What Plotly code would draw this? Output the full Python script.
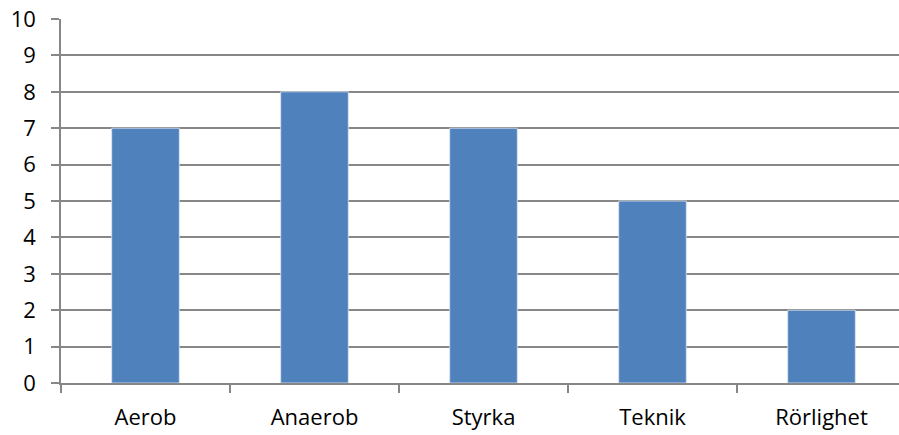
import plotly.graph_objects as go

categories = ["Aerob", "Anaerob", "Styrka", "Teknik", "Rörlighet"]
values = [7, 8, 7, 5, 2]
y_ticks = list(range(0, 11))

fig = go.Figure()
fig.add_trace(go.Bar(
    x=categories, y=values,
    marker=dict(color="#4F81BD", line=dict(color="#DCE6F2", width=0.8)),
    width=0.4,
))

axis_color = "#878787"
font = dict(family="Open Sans", size=22, color="#000000")

fig.update_layout(
    width=899, height=435,
    margin=dict(l=61, r=0, t=19, b=52),
    paper_bgcolor="white", plot_bgcolor="white",
    showlegend=False,
    font=font,
    bargap=0.6,
)
fig.update_xaxes(
    type="category",
    range=[-0.5, -0.5 + 838 / 169],
    showline=True, linecolor=axis_color, linewidth=1.5,
    ticks="outside", ticklen=8, tickcolor=axis_color, tickwidth=1.5,
    tickson="boundaries",
    showgrid=False,
    ticklabelstandoff=14,
    tickfont=font,
)
fig.update_yaxes(
    range=[0, 10],
    tickvals=y_ticks,
    showline=True, linecolor=axis_color, linewidth=1.5,
    ticks="outside", ticklen=8, tickcolor=axis_color, tickwidth=1.5,
    showgrid=True, gridcolor=axis_color, gridwidth=1.5,
    zeroline=False,
    ticklabelstandoff=11,
    tickfont=font,
)

fig.write_html("out.html")
